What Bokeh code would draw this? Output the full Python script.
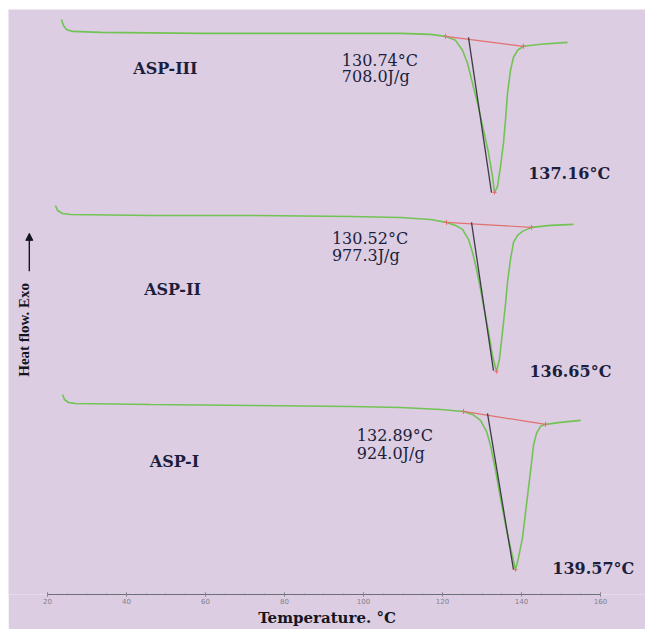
import math
from bokeh.plotting import figure
from bokeh.models import Range1d, FixedTicker, Arrow, NormalHead, Spacer
from bokeh.layouts import column, row
from bokeh.core.properties import value
from bokeh.embed import file_html
from bokeh.resources import INLINE

# ---------------- data ----------------
# temperature (deg C, on the printed axis) and heat flow (arbitrary units, stacked curves)
T_III = [23.54, 24.05, 24.81, 26.33, 33.42, 58.73, 84.05, 109.37, 116.96, 120.76, 123.29, 125.06,
         126.33, 127.59, 128.86, 130.38, 131.65, 132.66, 133.16, 133.92, 134.68, 135.44, 135.95,
         136.46, 137.22, 137.97, 138.99, 140.51, 144.81, 151.65]
hf_III = [578, 572, 568, 566, 565, 564, 564, 564, 563, 561, 557, 547,
          534, 514, 494, 467, 444, 420, 404, 410, 430, 454, 477,
          504, 527, 540, 547, 551, 553, 555]

T_II = [22.03, 22.53, 23.80, 25.82, 46.08, 71.39, 96.71, 109.37, 116.96, 121.01, 123.29, 125.06,
        126.58, 127.59, 128.61, 129.62, 130.63, 131.65, 132.66, 133.67, 134.43, 135.19, 135.95,
        136.46, 137.22, 137.97, 138.99, 140.25, 142.53, 147.34, 153.16]
hf_II = [391, 386, 383, 382, 381, 381, 380, 379, 377, 374, 371, 367,
         357, 344, 327, 307, 285, 264, 240, 224, 237, 264, 292,
         314, 337, 354, 361, 365, 369, 371, 372]

T_I = [23.80, 24.30, 25.32, 27.09, 46.08, 71.39, 96.71, 109.37, 119.49, 125.32, 127.59, 129.62,
       131.14, 132.15, 133.42, 134.68, 135.95, 137.22, 138.48, 139.24, 140.25, 141.01, 141.77,
       142.53, 143.04, 143.80, 144.81, 146.08, 149.87, 154.94]
hf_I = [201, 196, 193, 192, 191, 190, 189, 188, 186, 184, 181, 175,
        164, 150, 125, 97, 70, 47, 25, 37, 57, 82, 107,
        132, 150, 162, 169, 171, 173, 175]

# integration baselines (red) and onset tangents (dark)
base_T = [[120.76, 140.51], [121.01, 142.53], [125.32, 146.08]]
base_hf = [[561, 551], [374, 369], [184, 171]]
tan_T = [[126.58, 132.41], [127.34, 132.91], [131.39, 137.97]]
tan_hf = [[560, 404], [374, 225], [182, 25]]
peak_T = [133.16, 133.67, 138.48]
peak_hf = [404, 224, 25]

sample_names = ["ASP-III", "ASP-II", "ASP-I"]
name_T = [49.87, 51.65, 52.15]
name_hf = [529, 307, 134]

onset_text = ["130.74°C", "130.52°C", "132.89°C"]
enthalpy_text = ["708.0J/g", "977.3J/g", "924.0J/g"]
info_T = [94.5, 92.0, 98.3]
onset_hf = [537, 358, 160]
enthalpy_hf = [521, 341, 142]

peak_text = ["137.16°C", "136.65°C", "139.57°C"]
peak_lab_T = [141.7, 142.0, 147.8]
peak_lab_hf = [423, 224, 26]

x_ticks = [20, 40, 60, 80, 100, 120, 140, 160]
ylabel_pos = (14.18, 266)
arrow_T = 15.4
arrow_hf = (325, 363)

# ---------------- styling ----------------
BG = "#dccde2"
GREEN = "#72c354"
RED = "#e2706e"
DARK = "#3c3c44"
TXT = "#1b1e3c"

p = figure(width=637, height=620, output_backend="svg", toolbar_location=None,
           x_range=Range1d(10.13, 171.39), y_range=Range1d(0, 588),
           y_axis_location=None, min_border_left=0, min_border_right=0,
           min_border_top=0, min_border_bottom=30)
p.background_fill_color = BG
p.border_fill_color = BG
p.border_fill_alpha = 1.0
p.outline_line_color = None
p.grid.visible = False

ax = p.xaxis[0]
ax.bounds = (20, 160)
ax.ticker = FixedTicker(ticks=x_ticks, minor_ticks=list(range(20, 161, 5)))
ax.axis_line_color = "#6e6e78"
ax.axis_line_width = 1
ax.major_tick_line_color = "#6e6e78"
ax.minor_tick_line_color = "#8a8a94"
ax.major_tick_in = 2
ax.major_tick_out = 2
ax.minor_tick_in = 1
ax.minor_tick_out = 1
ax.major_label_text_font = "DejaVu Sans"
ax.major_label_text_font_size = "7px"
ax.major_label_text_color = "#80808c"
ax.major_label_standoff = 1
ax.axis_label = "Temperature. °C"
ax.axis_label_text_font = "DejaVu Serif"
ax.axis_label_text_font_style = "bold"
ax.axis_label_text_font_size = "15px"
ax.axis_label_text_color = "#151520"
ax.axis_label_standoff = 2

curves = [(T_III, hf_III), (T_II, hf_II), (T_I, hf_I)]
for i, (tx, hy) in enumerate(curves):
    p.line(tx, hy, line_color=GREEN, line_width=1.6)
    p.line(base_T[i], base_hf[i], line_color=RED, line_width=1.2)
    p.line(tan_T[i], tan_hf[i], line_color=DARK, line_width=1.3)
    p.scatter(base_T[i], base_hf[i], marker="cross", size=5, line_color=RED, line_width=1)

p.scatter(peak_T, peak_hf, marker="cross", size=4, line_color=RED, line_width=1)

p.text(x=name_T, y=name_hf, text=sample_names, text_font=value("DejaVu Serif"),
       text_font_style="bold", text_font_size="16px", text_color=TXT,
       text_align="center", text_baseline="middle")
p.text(x=info_T, y=onset_hf, text=onset_text, text_font=value("DejaVu Serif"),
       text_font_size="16px", text_color=TXT, text_align="left", text_baseline="middle")
p.text(x=info_T, y=enthalpy_hf, text=enthalpy_text, text_font=value("DejaVu Serif"),
       text_font_size="16px", text_color=TXT, text_align="left", text_baseline="middle")
p.text(x=peak_lab_T, y=peak_lab_hf, text=peak_text, text_font=value("DejaVu Serif"),
       text_font_style="bold", text_font_size="16px", text_color=TXT,
       text_align="left", text_baseline="middle")

p.text(x=[ylabel_pos[0]], y=[ylabel_pos[1]], text=["Heat flow. Exo"], angle=math.pi / 2,
       text_font=value("Liberation Serif"), text_font_style="bold", text_font_size="15px",
       text_color="#15151f", text_align="center", text_baseline="middle")
p.add_layout(Arrow(end=NormalHead(size=7, fill_color="#15151f", line_color="#15151f"),
                   x_start=arrow_T, y_start=arrow_hf[0], x_end=arrow_T, y_end=arrow_hf[1],
                   line_color="#15151f", line_width=1.4))

layout = column(Spacer(width=645, height=9), row(Spacer(width=8, height=620), p))
open("out.html", "w").write(file_html(layout, INLINE))
